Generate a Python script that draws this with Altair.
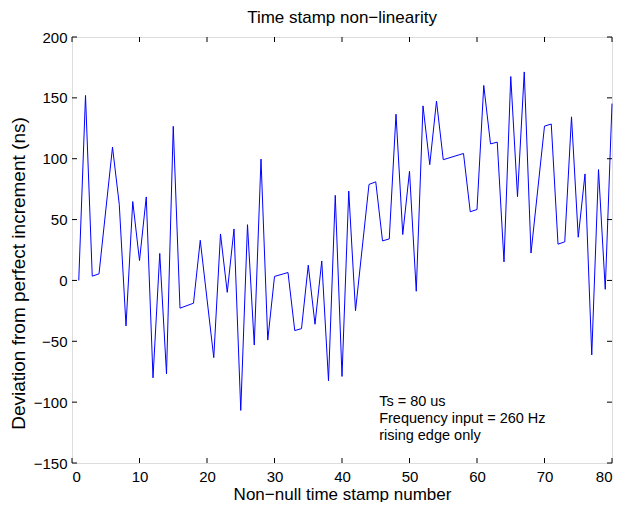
import altair as alt
import pandas as pd

# Sample index (points that lie on straight segments are not visible, so only drawn vertices)
xs = [1, 2, 3, 4, 6, 7, 8, 9, 10, 11, 12, 13, 14, 15, 16, 18, 19, 21, 22, 23,
      24, 25, 26, 27, 28, 29, 30, 32, 33, 34, 35, 36, 37, 38, 39, 40, 41, 42, 44, 45,
      46, 47, 48, 49, 50, 51, 52, 53, 54, 55, 58, 59, 60, 61, 62, 63, 64, 65, 66, 67,
      68, 70, 71, 72, 73, 74, 75, 76, 77, 78, 79, 80]
ys = [0, 152, 3.5, 5.4, 109.5, 62.6, -37.4, 64.8, 16.3, 68.6, -80, 22.2, -76.7, 126.6, -22.8, -18.7, 33, -63.4, 38.2, -9.8,
      42.3, -106.8, 45.8, -53.1, 99.7, -49, 3.3, 6.5, -41.2, -39.6, 12.5, -36, 16, -82.4, 69.9, -78.9, 73.4, -24.9, 78.9, 81,
      32.5, 34.1, 136.6, 37.7, 89.7, -8.9, 143.4, 95.1, 147.4, 99.2, 104.3, 56.4, 58.3, 160.2, 112.2, 113.6, 15.2, 167.5, 68.8, 171.3,
      22.5, 126.8, 128.5, 29.8, 31.7, 134.4, 35.5, 87.5, -61.2, 91.1, -7.3, 145.3]

x_ticks = [0, 10, 20, 30, 40, 50, 60, 70, 80]
y_ticks = [-150, -100, -50, 0, 50, 100, 150, 200]

note_lines = ["Ts = 80 us", "Frequency input = 260 Hz", "rising edge only"]
note_x = [45.5, 45.5, 45.5]
note_y = [-100, -114, -128]

TITLE = "Time stamp non\u2212linearity"
XTITLE = "Non\u2212null time stamp number"
YTITLE = "Deviation from perfect increment (ns)"

W, H = 540, 426
FONT = "Liberation Sans"

df = pd.DataFrame({"x": xs, "y": ys})
xt = pd.DataFrame({"x": x_ticks})
yt = pd.DataFrame({"y": y_ticks})
notes = pd.DataFrame({"x": note_x, "y": note_y, "t": note_lines})

xscale = alt.Scale(domain=[0, 80], nice=False, zero=False)
yscale = alt.Scale(domain=[-150, 200], nice=False, zero=False)

xaxis = alt.Axis(values=x_ticks, grid=False, ticks=False, tickSize=0, domain=False,
                 labelPadding=6, labelFontSize=15, labelFont=FONT, labelColor="black",
                 title=XTITLE, titleFont=FONT, titleFontSize=17, titleFontWeight="normal",
                 titleColor="black", titleBaseline="alphabetic", titleY=36)
yaxis = alt.Axis(values=y_ticks, grid=False, ticks=False, tickSize=0, domain=False,
                 labelPadding=5, labelFontSize=15, labelFont=FONT, labelColor="black",
                 title=YTITLE, titleFont=FONT, titleFontSize=19, titleFontWeight="normal",
                 titleColor="black", titleBaseline="alphabetic", titleX=-48, titleY=236)

line = alt.Chart(df).mark_line(color="#0000ff", strokeWidth=1).encode(
    x=alt.X("x:Q", scale=xscale, axis=xaxis),
    y=alt.Y("y:Q", scale=yscale, axis=yaxis),
)

xt_bottom = alt.Chart(xt).mark_rule(color="black", strokeWidth=1).encode(
    x=alt.X("x:Q", scale=xscale, title=XTITLE), y=alt.value(H), y2=alt.value(H - 5))
xt_top = alt.Chart(xt).mark_rule(color="black", strokeWidth=1).encode(
    x=alt.X("x:Q", scale=xscale, title=XTITLE), y=alt.value(0), y2=alt.value(5))
yt_left = alt.Chart(yt).mark_rule(color="black", strokeWidth=1).encode(
    y=alt.Y("y:Q", scale=yscale, title=YTITLE), x=alt.value(0), x2=alt.value(5))
yt_right = alt.Chart(yt).mark_rule(color="black", strokeWidth=1).encode(
    y=alt.Y("y:Q", scale=yscale, title=YTITLE), x=alt.value(W), x2=alt.value(W - 5))

text = alt.Chart(notes).mark_text(align="left", baseline="middle", font=FONT,
                                  fontSize=14.5, color="black").encode(
    x=alt.X("x:Q", scale=xscale, title=XTITLE),
    y=alt.Y("y:Q", scale=yscale, title=YTITLE),
    text="t:N",
)

chart = alt.layer(line, xt_bottom, xt_top, yt_left, yt_right, text).properties(
    width=W, height=H,
    title=alt.TitleParams(TITLE, font=FONT, fontSize=17, fontWeight="normal",
                          color="black", anchor="middle", offset=3),
    autosize=alt.AutoSizeParams(type="none"),
    padding={"left": 64, "top": 29, "right": 8, "bottom": 39},
).configure_view(stroke="black", strokeWidth=1).configure(background="white")

chart.save("out.html", embed_options={"renderer": "svg", "actions": False})
